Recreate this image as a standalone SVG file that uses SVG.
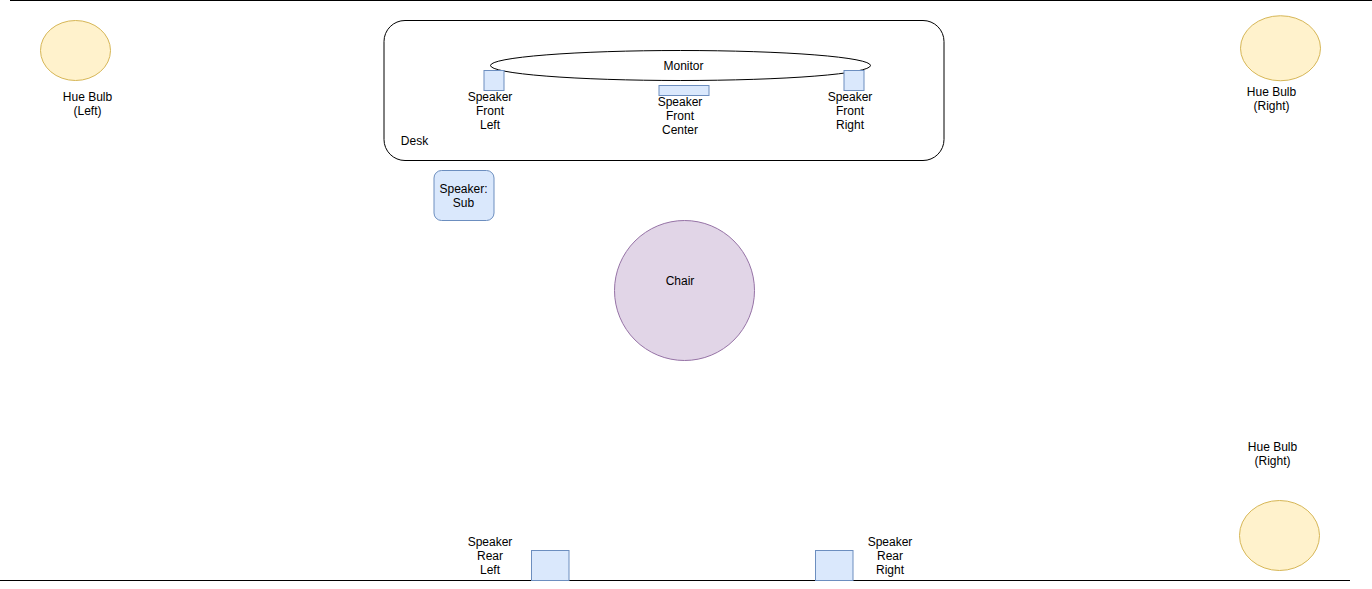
<svg xmlns="http://www.w3.org/2000/svg" width="1372" height="589" viewBox="0 0 1372 589">
<style>
text{font-family:"Liberation Sans",Arial,sans-serif;font-size:12px;fill:#000;text-anchor:middle}
.l{fill:none;stroke:#000;stroke-width:1}
.b{fill:#dae8fc;stroke:#6c8ebf;stroke-width:1}
.y{fill:#fff2cc;stroke:#d6b656;stroke-width:1}
.o{fill:#fff;stroke:#000;stroke-width:1}
</style>
<rect width="1372" height="589" fill="#fff"/>
<g id="room-walls">
<line class="l" x1="10" y1="0.5" x2="1372" y2="0.5"/>
<line class="l" x1="0" y1="580.5" x2="1350" y2="580.5"/>
</g>
<g id="desk"><rect class="o" x="384" y="20.5" width="560" height="140" rx="21" ry="21"/><text x="414.5" y="145">Desk</text></g>
<g id="monitor"><ellipse class="o" cx="680.5" cy="65.5" rx="190" ry="15"/><text x="683.5" y="70">Monitor</text></g>
<g id="speaker-front-left"><rect class="b" x="484" y="70.5" width="20" height="20"/><text x="490" y="101">Speaker</text><text x="490" y="115">Front</text><text x="490" y="129">Left</text></g>
<g id="speaker-front-center"><rect class="b" x="659" y="85.5" width="50" height="10"/><text x="680" y="106">Speaker</text><text x="680" y="120">Front</text><text x="680" y="134">Center</text></g>
<g id="speaker-front-right"><rect class="b" x="844" y="70.5" width="20" height="20"/><text x="850" y="101">Speaker</text><text x="850" y="115">Front</text><text x="850" y="129">Right</text></g>
<g id="speaker-sub"><rect class="b" x="434" y="170.5" width="60" height="50" rx="7.5" ry="7.5"/><text x="463.5" y="193">Speaker:</text><text x="463.5" y="207">Sub</text></g>
<g id="chair"><circle cx="684.5" cy="290.5" r="70" fill="#e1d5e7" stroke="#9673a6"/><text x="680" y="285">Chair</text></g>
<g id="speaker-rear-left"><rect class="b" x="531.5" y="550.5" width="37.5" height="30"/><text x="490" y="546">Speaker</text><text x="490" y="560">Rear</text><text x="490" y="574">Left</text></g>
<g id="speaker-rear-right"><rect class="b" x="815.5" y="550.5" width="37.5" height="30"/><text x="890" y="546">Speaker</text><text x="890" y="560">Rear</text><text x="890" y="574">Right</text></g>
<g id="hue-bulb-left"><ellipse class="y" cx="75.5" cy="50.5" rx="35" ry="30"/><text x="87.5" y="101">Hue Bulb</text><text x="87.5" y="115">(Left)</text></g>
<g id="hue-bulb-right-top"><ellipse class="y" cx="1280.5" cy="48.25" rx="40" ry="32.5"/><text x="1271.5" y="96">Hue Bulb</text><text x="1271.5" y="110">(Right)</text></g>
<g id="hue-bulb-right-bottom"><ellipse class="y" cx="1279.5" cy="535.5" rx="40" ry="35"/><text x="1272.5" y="451">Hue Bulb</text><text x="1272.5" y="465">(Right)</text></g>
<g id="connectors"></g>
</svg>
